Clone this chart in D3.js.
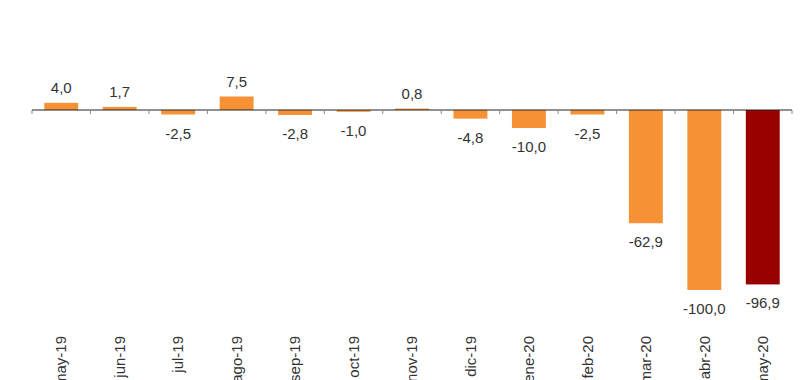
<!DOCTYPE html>
<html><head><meta charset="utf-8">
<script src="https://cdn.jsdelivr.net/npm/d3@7"></script>
<style>body{margin:0;background:#fff}svg{display:block}text{font-family:"Liberation Sans",Arial,sans-serif}</style>
</head><body>
<svg id="c" width="800" height="380"></svg>
<script>
const categories = ["may-19","jun-19","jul-19","ago-19","sep-19","oct-19","nov-19","dic-19","ene-20","feb-20","mar-20","abr-20","may-20"];
const values = [4.0,1.7,-2.5,7.5,-2.8,-1.0,0.8,-4.8,-10.0,-2.5,-62.9,-100.0,-96.9];
const highlight = ["may-20"];

const svg = d3.select("#c");
const x = d3.scaleBand().domain(categories).range([32,792]).paddingInner(0.42).paddingOuter(0.21);
const y = d3.scaleLinear().domain([-100,0]).range([290,110]);
const fmt = v => v.toFixed(1).replace(".", ",");

svg.selectAll("rect.bar").data(categories).join("rect")
  .attr("class","bar")
  .attr("x", d => x(d))
  .attr("width", x.bandwidth())
  .attr("y", (d,i) => y(Math.max(0, values[i])))
  .attr("height", (d,i) => Math.abs(y(values[i]) - y(0)))
  .attr("fill", d => highlight.includes(d) ? "#990000" : "#F79136");

const step = x.step();
const bounds = d3.range(categories.length + 1).map(i => 32 + i * step);
svg.append("line").attr("x1",32).attr("x2",792).attr("y1",y(0)).attr("y2",y(0))
  .attr("stroke","#222").attr("stroke-width",1);
svg.selectAll("line.tick").data(bounds).join("line").attr("class","tick")
  .attr("x1", d => d).attr("x2", d => d)
  .attr("y1", y(0)).attr("y2", y(0) + 4)
  .attr("stroke","#888").attr("stroke-width",1);

svg.selectAll("text.val").data(categories).join("text")
  .attr("class","val")
  .attr("x", d => x(d) + x.bandwidth()/2)
  .attr("y", (d,i) => values[i] >= 0 ? y(values[i]) - 10 : y(values[i]) + 24)
  .attr("text-anchor","middle")
  .attr("font-size", 15)
  .attr("fill","#333")
  .text((d,i) => fmt(values[i]));

svg.selectAll("text.cat").data(categories).join("text")
  .attr("class","cat")
  .attr("transform", d => `translate(${x(d) + x.bandwidth()/2},336) rotate(-90)`)
  .attr("text-anchor","end")
  .attr("dy","0.35em")
  .attr("font-size", 15)
  .attr("fill","#333")
  .text(d => d);
</script>
</body></html>
